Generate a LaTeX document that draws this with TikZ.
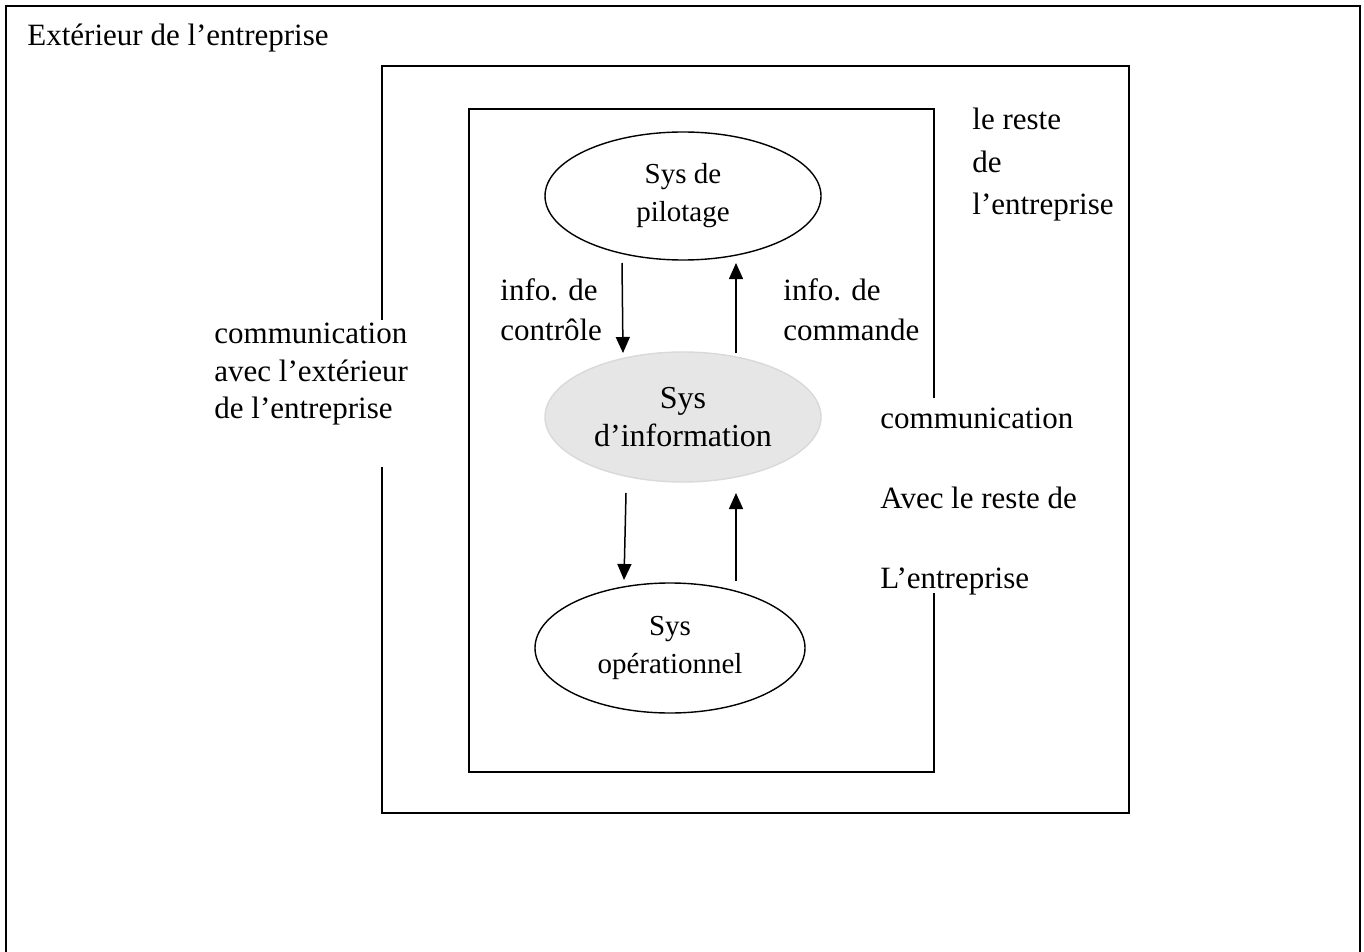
\documentclass[tikz,border=0pt]{standalone}
\usepackage{fontspec}
\setmainfont{Liberation Serif}
\usetikzlibrary{shapes.geometric,arrows.meta}
\definecolor{infofill}{HTML}{E6E6E6}
\definecolor{infoline}{HTML}{D9D9D9}
\begin{document}
\begin{tikzpicture}[x=0.5pt,y=-0.5pt,
  frame/.style={line width=1pt, black},
  lbl/.style={anchor=base west, inner sep=0pt, font=\fontsize{15.5}{18}\selectfont},
  sysell/.style={ellipse, draw, line width=0.7pt, minimum width=138pt, minimum height=64pt, inner sep=0pt, align=center, font=\fontsize{14.5}{19}\selectfont},
  arr/.style={line width=0.75pt, -{Triangle[width=7pt,length=8pt]}}]
\useasboundingbox (0,0) rectangle (1364,952);
% outer frame (bottom edge outside the picture)
\draw[frame] (6,960) -- (6,6) -- (1360,6) -- (1360,960);
\node[lbl] (ext) at (27,46) {Extérieur de l’entreprise};
% middle box
\draw[frame] (382,320) -- (382,66) -- (1129,66) -- (1129,813) -- (382,813) -- (382,467);
% inner box
\draw[frame] (934,398) -- (934,109) -- (469,109) -- (469,772) -- (934,772) -- (934,593);
% ellipses
\node[sysell] (pil) at (683,196) {Sys de\\pilotage};
\node[sysell, draw=infoline, fill=infofill, minimum height=65pt, font=\fontsize{16}{19}\selectfont] (info) at (683,417) {Sys\\d’information};
\node[sysell, minimum width=135pt, minimum height=65pt] (oper) at (670,648) {Sys\\opérationnel};
% arrows
\coordinate (c1) at (622,263); \coordinate (c2) at (623,353);
\coordinate (c3) at (736,353); \coordinate (c4) at (736,263);
\coordinate (c5) at (626,493); \coordinate (c6) at (624,580);
\coordinate (c7) at (736,581); \coordinate (c8) at (736,493);
\draw[arr] (c1) -- (c2);
\draw[arr] (c3) -- (c4);
\draw[arr] (c5) -- (c6);
\draw[arr] (c7) -- (c8);
% labels
\node[lbl] (ctl1) at (500,300) {info. de};
\node[lbl] (ctl2) at (500,340) {contrôle};
\node[lbl] (cmd1) at (783,300) {info. de};
\node[lbl] (cmd2) at (783,340) {commande};
\node[lbl] (rst1) at (972,130) {le reste};
\node[lbl] (rst2) at (972,173) {de};
\node[lbl] (rst3) at (972,215) {l’entreprise};
\node[lbl] (lc1) at (214,343) {communication};
\node[lbl] (lc2) at (214,381) {avec l’extérieur};
\node[lbl] (lc3) at (214,418) {de l’entreprise};
\node[lbl] (rc1) at (880,428) {communication};
\node[lbl] (rc2) at (880,508) {Avec le reste de};
\node[lbl] (rc3) at (880,588) {L’entreprise};
\end{tikzpicture}
\end{document}
